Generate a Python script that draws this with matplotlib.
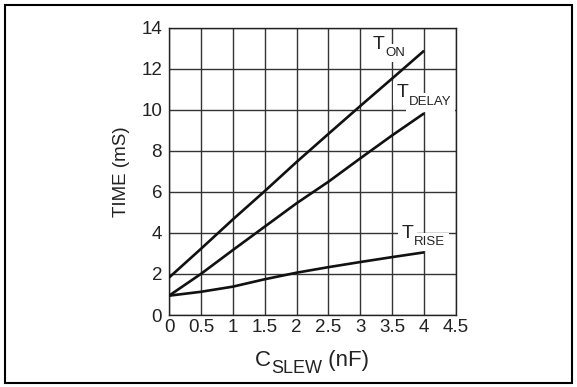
import matplotlib
matplotlib.use("Agg")
import matplotlib.pyplot as plt
from matplotlib.patches import Rectangle
from matplotlib.transforms import IdentityTransform

plt.rcParams['font.family'] = ['Liberation Sans', 'DejaVu Sans']

c_slew = [0, 0.5, 1, 1.5, 2, 2.5, 3, 3.5, 4]
t_on = [1.82, 3.22, 4.65, 6.03, 7.45, 8.82, 10.18, 11.52, 12.87]
t_delay = [0.94, 2.0, 3.16, 4.3, 5.44, 6.49, 7.63, 8.75, 9.82]
t_rise = [0.94, 1.13, 1.38, 1.74, 2.06, 2.33, 2.58, 2.82, 3.05]

x_ticks = [0, 0.5, 1, 1.5, 2, 2.5, 3, 3.5, 4, 4.5]
x_tick_labels = ['0', '0.5', '1', '1.5', '2', '2.5', '3', '3.5', '4', '4.5']
y_ticks = [0, 2, 4, 6, 8, 10, 12, 14]

TXT = '#222222'
W, H = 577, 387
fig = plt.figure(figsize=(W / 100, H / 100), dpi=100)
ax = fig.add_axes([169 / W, (H - 315) / H, 287 / W, 287.5 / H])

for series in (t_on, t_delay, t_rise):
    ax.plot(c_slew, series, color='#111111', lw=1.9, zorder=3,
            solid_capstyle='butt')

ax.set_xlim(0, 4.5)
ax.set_ylim(0, 14)
ax.set_xticks(x_ticks)
ax.set_xticklabels(x_tick_labels)
ax.set_yticks(y_ticks)
ax.tick_params(axis='both', length=0, labelsize=13.5, colors=TXT)
ax.tick_params(axis='x', pad=3)
ax.tick_params(axis='y', pad=5)
ax.grid(True, color='#333333', lw=1.0)
ax.set_axisbelow(True)
for s in ax.spines.values():
    s.set_color('#222222')
    s.set_linewidth(1.0)

ax.set_ylabel('TIME (mS)', fontsize=13.5, color=TXT, labelpad=8)


def sub_text(x, y, main, sub, transform, main_size, sub_size, drop, tail=None,
             bbox=None):
    t1 = fig.text(x, y, main, transform=transform, fontsize=main_size,
                  ha='left', va='baseline', color=TXT, bbox=bbox, zorder=5)
    t2 = fig.text(0, 0, sub, fontsize=sub_size, ha='left', va='baseline',
                  color=TXT, bbox=bbox, zorder=5)
    fig.canvas.draw()
    r = fig.canvas.get_renderer()
    bb = t1.get_window_extent(r)
    xd, yd = transform.transform((x, y))
    t2.set_transform(IdentityTransform())
    t2.set_position((bb.x1 + 0.5, yd - drop))
    if tail is not None:
        fig.canvas.draw()
        bb2 = t2.get_window_extent(r)
        fig.text(bb2.x1, yd, tail, transform=IdentityTransform(),
                 fontsize=main_size, ha='left', va='baseline', color=TXT,
                 zorder=5)


# x label: C_SLEW (nF)
sub_text(255 / W, 1 - 366 / H, 'C', 'SLEW', fig.transFigure, 16, 13, 7,
         tail=' (nF)')

bbox = dict(facecolor='white', edgecolor='none', pad=2.5)
sub_text(3.2, 12.95, 'T', 'ON', ax.transData, 14, 9.5, 7, bbox=bbox)
sub_text(3.57, 10.6, 'T', 'DELAY', ax.transData, 14, 9.5, 8, bbox=bbox)
sub_text(3.65, 3.75, 'T', 'RISE', ax.transData, 14, 9.5, 7, bbox=bbox)

fig.patches.append(Rectangle((5 / W, (H - 383) / H), 567 / W, 378.5 / H,
                             transform=fig.transFigure, fill=False,
                             edgecolor='black', lw=1.5))

fig.savefig('out.png', dpi=100, facecolor='white')
